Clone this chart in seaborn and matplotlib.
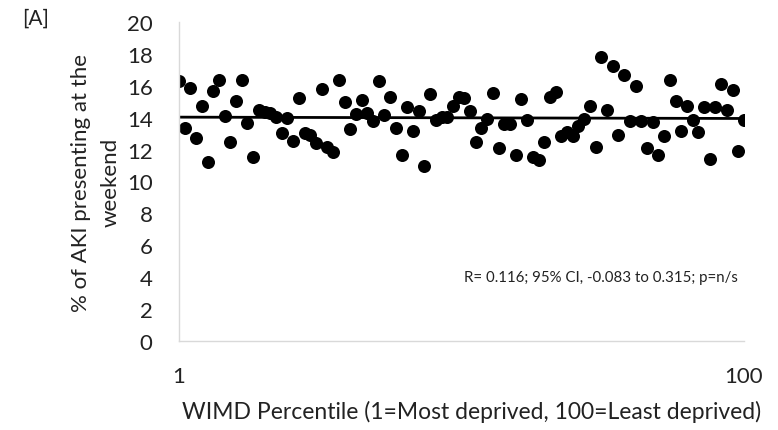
import numpy as np
import pandas as pd
import seaborn as sns
import matplotlib
matplotlib.use("Agg")
import matplotlib.pyplot as plt

# data (WIMD percentile 1..100)
percentile = list(range(1, 101))
weekend_pct = [
    16.28, 13.33, 15.84, 12.71, 14.71, 11.24, 15.65, 16.38, 14.13, 12.46,
    15.07, 16.36, 13.69, 11.52, 14.50, 14.38, 14.28, 14.06, 13.02, 13.96,
    12.52, 15.21, 13.04, 12.92, 12.40, 15.78, 12.14, 11.83, 16.36, 14.96,
    13.29, 14.21, 15.13, 14.28, 13.81, 16.28, 14.19, 15.30, 13.35, 11.68,
    14.65, 13.15, 14.42, 10.95, 15.47, 13.86, 14.06, 14.02, 14.75, 15.28,
    15.21, 14.44, 12.46, 13.33, 13.92, 15.53, 12.10, 13.60, 13.60, 11.66,
    15.17, 13.86, 11.56, 11.37, 12.50, 15.28, 15.59, 12.87, 13.12, 12.83,
    13.50, 13.92, 14.75, 12.14, 17.79, 14.48, 17.26, 12.94, 16.70, 13.81,
    15.97, 13.77, 12.10, 13.71, 11.66, 12.87, 16.36, 15.03, 13.15, 14.75,
    13.84, 13.08, 14.65, 11.41, 14.69, 16.11, 14.48, 15.76, 11.89, 13.87,
]
yticks = list(range(0, 21, 2))
xticks = [1, 100]

df = pd.DataFrame({"WIMD": percentile, "AKI": weekend_pct})

sns.set_style("white")
plt.rcParams["font.family"] = ["Lato", "DejaVu Sans"]

fig = plt.figure(figsize=(7.78, 4.31), dpi=100)
ax = fig.add_axes([179 / 778, 1 - 342 / 431, (744 - 179) / 778, (342 - 23) / 431])

sns.regplot(data=df, x="WIMD", y="AKI", ax=ax, ci=None,
            scatter_kws={"s": 88, "color": "black", "linewidths": 0, "alpha": 1},
            line_kws={"color": "black", "lw": 2})

ax.set_xlim(1, 100)
ax.set_ylim(0, 20)
ax.set_xticks(xticks)
ax.set_yticks(yticks)
ax.tick_params(axis="y", length=0, pad=19, labelsize=16, colors="#222222")
ax.tick_params(axis="x", length=0, pad=18, labelsize=16, colors="#222222")
for s in ["top", "right"]:
    ax.spines[s].set_visible(False)
for s in ["left", "bottom"]:
    ax.spines[s].set_color("#d9d9d9")
    ax.spines[s].set_linewidth(1)

ax.set_xlabel("WIMD Percentile (1=Most deprived, 100=Least deprived)", fontsize=16.5,
              color="#222222")
ax.xaxis.set_label_coords(0.518, -0.186)
ax.set_ylabel("% of AKI presenting at the\nweekend", fontsize=16, color="#222222",
              linespacing=1.6)
ax.yaxis.set_label_coords(-0.104, 0.5)

ax.text(0.99, 4, "R= 0.116; 95% CI, -0.083 to 0.315; p=n/s", transform=ax.get_yaxis_transform(),
        ha="right", va="center", fontsize=10.8, color="#222222")
fig.text(22 / 778, 1 - 19 / 431, "[A]", ha="left", va="center", fontsize=15, color="#222222")

fig.savefig("out.png", dpi=100)
